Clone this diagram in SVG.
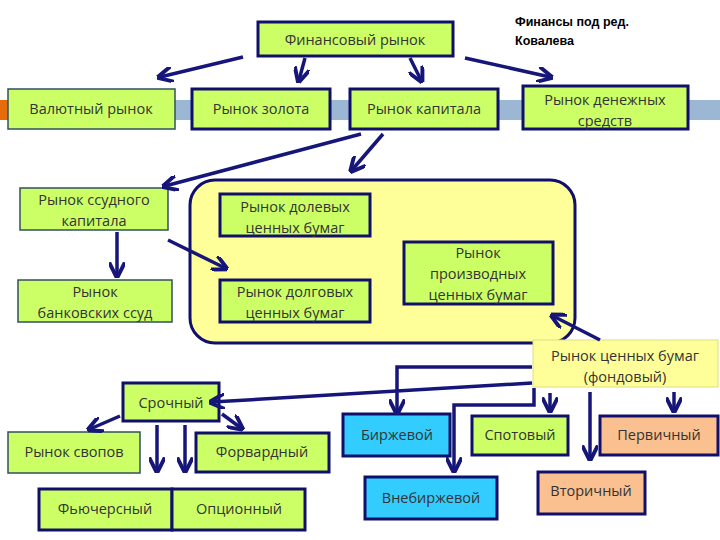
<svg xmlns="http://www.w3.org/2000/svg" width="720" height="540" viewBox="0 0 720 540">
<style>
text{font-family:"Open Sans","Liberation Sans",sans-serif;font-size:14.5px;fill:#333;text-anchor:middle}
.g{fill:#ccff66;stroke:#10106a;stroke-width:3}
.t{fill:#ccff66;stroke:#2f5060;stroke-width:1.5}
.c{fill:#33ccff;stroke:#10106a;stroke-width:3}
.p{fill:#fac090;stroke:#10106a;stroke-width:3}
.a{stroke:#16167a;stroke-width:3.5;fill:none;marker-end:url(#m)}
.n{font-family:"Liberation Sans",sans-serif;font-size:12.5px;fill:#000;text-anchor:start;font-weight:bold}
</style>
<defs><marker id="m" viewBox="0 0 10 10" refX="8" refY="5" markerWidth="4.5" markerHeight="4.5" orient="auto"><path d="M0,0 L10,5 L0,10" fill="none" stroke="#16167a" stroke-width="2.5"/></marker></defs>
<rect x="0" y="100" width="720" height="20" fill="#9bb7d4"/>
<rect x="0" y="100" width="8" height="20" fill="#e46c0a"/>
<text class="n" x="515" y="26">Финансы под ред.</text>
<text class="n" x="515" y="45">Ковалева</text>
<g id="big"><rect x="190" y="180" width="385" height="163" rx="25" fill="#ffff99" stroke="#10106a" stroke-width="3"/></g>
<g id="fin"><rect class="g" x="258" y="22" width="195" height="34"/><text x="355" y="45">Финансовый рынок</text></g>
<g id="val"><rect class="t" x="8" y="89" width="167" height="40"/><text x="91" y="114">Валютный рынок</text></g>
<g id="zol"><rect class="g" x="192" y="89" width="138" height="40"/><text x="261" y="114">Рынок золота</text></g>
<g id="kap"><rect class="g" x="350" y="89" width="148" height="40"/><text x="424" y="114">Рынок капитала</text></g>
<g id="den"><rect class="g" x="523" y="86" width="165" height="43"/><text x="605" y="105">Рынок денежных</text><text x="605" y="126">средств</text></g>
<g id="ssud"><rect class="t" x="20" y="188" width="148" height="42"/><text x="94" y="205">Рынок ссудного</text><text x="94" y="226">капитала</text></g>
<g id="dol"><rect class="g" x="220" y="194" width="150" height="42"/><text x="295" y="212">Рынок долевых</text><text x="295" y="233">ценных бумаг</text></g>
<g id="dolg"><rect class="g" x="220" y="280" width="150" height="42"/><text x="295" y="297">Рынок долговых</text><text x="295" y="318">ценных бумаг</text></g>
<g id="proiz"><rect class="g" x="404" y="242" width="149" height="62"/><text x="478" y="258">Рынок</text><text x="478" y="279">производных</text><text x="478" y="300">ценных бумаг</text></g>
<g id="bank"><rect class="t" x="18" y="280" width="154" height="42"/><text x="95" y="297">Рынок</text><text x="95" y="318">банковских ссуд</text></g>
<g id="cb"><rect x="533" y="340" width="185" height="47" fill="#ffff99" stroke="#dddd88" stroke-width="1"/><text x="625" y="361">Рынок ценных бумаг</text><text x="625" y="382">(фондовый)</text></g>
<g id="sroch"><rect class="g" x="123" y="383" width="96" height="38"/><text x="171" y="408">Срочный</text></g>
<g id="svop"><rect class="t" x="8" y="432" width="132" height="41"/><text x="74" y="457">Рынок свопов</text></g>
<g id="forv"><rect class="g" x="196" y="433" width="133" height="39"/><text x="262" y="457">Форвардный</text></g>
<g id="fyu"><rect class="g" x="39" y="489" width="133" height="41"/><text x="105" y="514">Фьючерсный</text></g>
<g id="opc"><rect class="g" x="172" y="489" width="133" height="41"/><text x="239" y="514">Опционный</text></g>
<g id="birzh"><rect class="c" x="343" y="414" width="107" height="42"/><text x="397" y="440">Биржевой</text></g>
<g id="vneb"><rect class="c" x="365" y="477" width="132" height="42"/><text x="431" y="503">Внебиржевой</text></g>
<g id="spot"><rect class="g" x="472" y="416" width="96" height="39"/><text x="520" y="440">Спотовый</text></g>
<g id="perv"><rect class="p" x="600" y="416" width="118" height="39"/><text x="659" y="440">Первичный</text></g>
<g id="vtor"><rect class="p" x="538" y="472" width="107" height="42"/><text x="591" y="496">Вторичный</text></g>
<g id="connectors">
<path class="a" d="M243,57 L160,77"/>
<path class="a" d="M305,58 L299,80"/>
<path class="a" d="M410,58 L421,80"/>
<path class="a" d="M465,58 L550,77"/>
<path class="a" d="M361,134 L165,186"/>
<path class="a" d="M383,134 L352,170"/>
<path class="a" d="M117,232 L117,275"/>
<path class="a" d="M168,240 L225,268"/>
<path class="a" d="M600,340 L553,316"/>
<path class="a" d="M532,367 L397,367 L397,412"/>
<path class="a" d="M532,383 L212,402"/>
<path class="a" d="M534,388 L534,405 L454,405 L454,470"/>
<path class="a" d="M550,393 L550,410"/>
<path class="a" d="M590,392 L590,458"/>
<path class="a" d="M674,392 L674,410"/>
<path class="a" d="M120,416 L90,429"/>
<path class="a" d="M157,425 L157,470"/>
<path class="a" d="M185,425 L185,470"/>
<path class="a" d="M222,414 L241,428"/>
</g>
</svg>
